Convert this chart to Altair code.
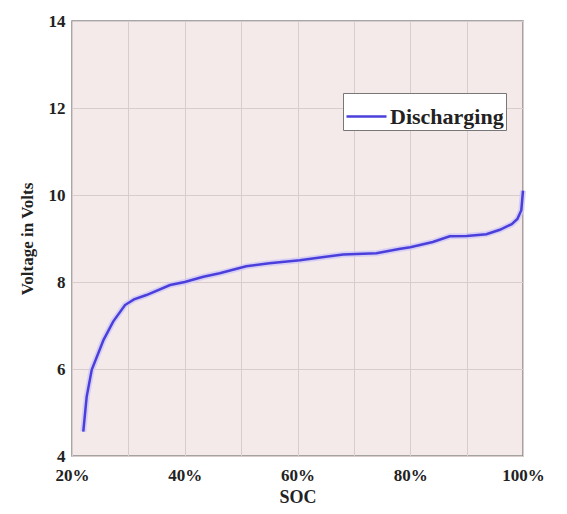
import altair as alt
import pandas as pd

soc = [22.0, 22.6, 23.5, 25.6, 27.3, 29.4, 31.0, 33.2, 37.4, 40.0, 43.3, 46.2,
       50.9, 55.0, 60.4, 65.0, 68.1, 74.0, 78.0, 80.0, 84.0, 87.0, 90.0, 93.5,
       95.9, 98.0, 99.0, 99.7, 100.0]
voltage = [4.56, 5.36, 5.98, 6.67, 7.09, 7.47, 7.60, 7.70, 7.93, 8.00, 8.12, 8.20,
           8.36, 8.43, 8.50, 8.58, 8.63, 8.66, 8.76, 8.80, 8.92, 9.05, 9.06, 9.10,
           9.20, 9.33, 9.45, 9.65, 10.10]
series = ["Discharging"] * len(soc)

df = pd.DataFrame({"SOC": soc, "Voltage": voltage, "Series": series})

FONT = "Liberation Serif"

x = alt.X("SOC:Q", scale=alt.Scale(domain=[20, 100], nice=False),
          axis=alt.Axis(title="SOC", values=[20, 30, 40, 50, 60, 70, 80, 90, 100],
                        labelExpr="datum.value % 20 == 0 ? datum.value + '%' : ''",
                        grid=True, gridColor="#d9cccc", gridWidth=1,
                        domain=False, ticks=False, labelPadding=11,
                        labelFont=FONT, labelFontSize=17, labelFontWeight="bold",
                        labelColor="#222222", titleFont=FONT, titleFontSize=18,
                        titleFontWeight="bold", titleColor="#222222", titlePadding=5,
                        labelFlush=False))
y = alt.Y("Voltage:Q", scale=alt.Scale(domain=[4, 14], nice=False),
          axis=alt.Axis(title="Voltage in Volts", values=[4, 6, 8, 10, 12, 14],
                        grid=True, gridColor="#d9cccc", gridWidth=1,
                        domain=False, ticks=False, labelPadding=7,
                        labelFont=FONT, labelFontSize=17, labelFontWeight="bold",
                        labelColor="#222222", titleFont=FONT, titleFontSize=17,
                        titleFontWeight="bold", titleColor="#222222", titlePadding=12))

halo = alt.Chart(df).mark_line(strokeWidth=6, color="#cfc8f5", opacity=0.8).encode(
    x=x, y=y, order="SOC:Q")

line = alt.Chart(df).mark_line(strokeWidth=2.5).encode(
    x=x, y=y, order="SOC:Q",
    color=alt.Color("Series:N", scale=alt.Scale(range=["#4b3fdc"]),
                    legend=alt.Legend(title=None, orient="none", legendX=271, legendY=72,
                                      symbolType="stroke", symbolSize=1600,
                                      symbolStrokeWidth=2.5,
                                      labelFont=FONT, labelFontSize=22,
                                      labelFontWeight="bold", labelColor="#222222",
                                      fillColor="white", strokeColor="#777777",
                                      padding=2, labelOffset=2)))

chart = (halo + line).properties(
    width=451, height=435,
    autosize=alt.AutoSizeParams(type="none"),
    padding={"left": 72, "top": 21, "right": 44, "bottom": 58},
    background="white",
).configure_view(fill="#f4eaea", stroke="#8a8a8a", strokeWidth=1.5)

chart.save("out.html", embed_options={"renderer": "svg", "actions": False})
